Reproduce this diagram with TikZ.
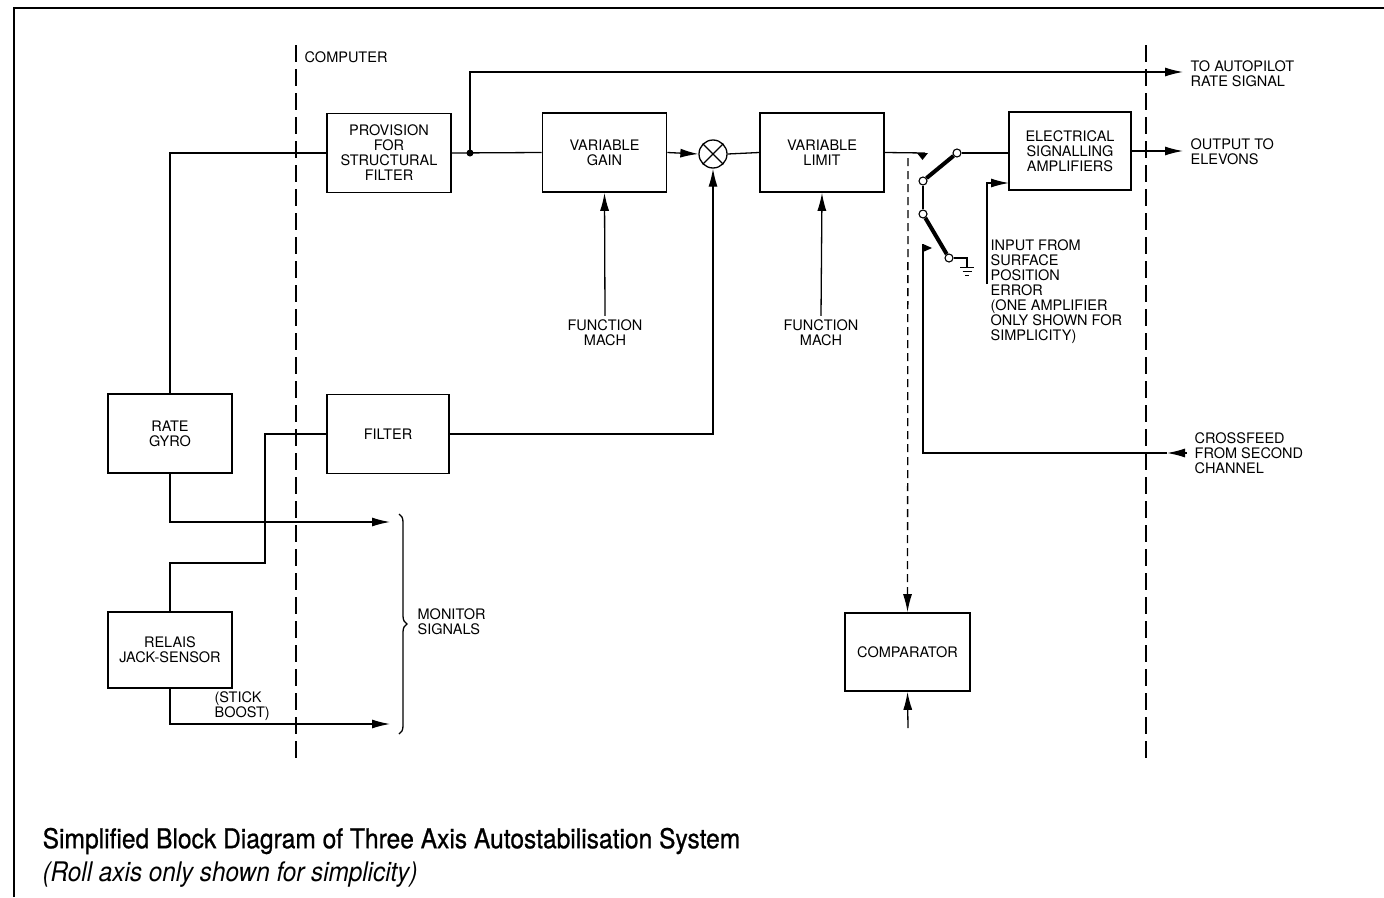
\documentclass[tikz,border=0pt]{standalone}
\usepackage{fontspec}
\setmainfont{TeX Gyre Heros}
\newfontfamily\capfont[FakeStretch=0.9]{TeX Gyre Heros}
\newfontfamily\titlefont[FakeStretch=0.9,FakeBold=0.8]{TeX Gyre Heros}
\usetikzlibrary{arrows.meta,positioning,decorations.pathreplacing}

\begin{document}
\begin{tikzpicture}[
  x=1pt,y=-1pt,
  line width=1.3pt,
  font=\fontsize{14.5}{15}\selectfont,
  box/.style={draw,line width=1.6pt,align=center,minimum width=124pt,
              minimum height=79pt,inner sep=2pt},
  lbl/.style={align=left,anchor=west,inner sep=0pt},
  arrow/.style={-{Latex[length=18pt,width=9pt]}},
  border/.style={dash pattern=on 17pt off 7pt,line width=1.1pt},
  contact/.style={draw,circle,fill=white,inner sep=0pt,minimum size=8pt,line width=1.1pt},
  blade/.style={line width=4pt}
]
\useasboundingbox (0,0) rectangle (1384,897);
\draw[line width=1.5pt] (14,897) -- (14,8) -- (1384,8);

% computer boundaries
\draw[border] (296,45) -- (296,760);
\draw[border] (1146,45) -- (1146,758);
\node[lbl] (computer) at (304,57) {COMPUTER};

% main chain
\node[box] (psf) at (389,153) {PROVISION\\FOR\\STRUCTURAL\\FILTER};
\node[box] (gain) at (604.5,152.5) {VARIABLE\\GAIN};
\node[draw,circle,minimum size=28pt,inner sep=0pt] (sum) at (713,154) {};
\draw (sum.45) -- (sum.225) (sum.135) -- (sum.315);
\node[box] (limit) at (822,152.5) {VARIABLE\\LIMIT};
\node[box,minimum width=122pt,minimum height=78pt] (esa) at (1070,151)
 {ELECTRICAL\\SIGNALLING\\AMPLIFIERS};
\node[align=center] (mach1) at (605,333) {FUNCTION\\MACH};
\node[align=center] (mach2) at (821,333) {FUNCTION\\MACH};

% sensors
\node[box] (gyro) at (170,433.5) {RATE\\GYRO};
\node[box,minimum width=122pt] (filter) at (388,434) {FILTER};
\node[box,minimum height=76pt] (relais) at (170,650) {RELAIS\\JACK-SENSOR};
\node[box,minimum width=125pt,minimum height=78pt] (comp) at (907.5,652) {COMPARATOR};

% outside labels
\node[lbl] (autopilot) at (1190,74) {TO AUTOPILOT\\RATE SIGNAL};
\node[lbl] (elevons) at (1190,152) {OUTPUT TO\\ELEVONS};
\node[lbl] (crossfeed) at (1194,453) {CROSSFEED\\FROM SECOND\\CHANNEL};
\node[lbl,anchor=north west] (surface) at (990,239)
 {INPUT FROM\\SURFACE\\POSITION\\ERROR\\(ONE AMPLIFIER\\ONLY SHOWN FOR\\SIMPLICITY)};
\node[lbl] (stick) at (214,706) {(STICK\\BOOST)};
\node[lbl] (monitor) at (417,622) {MONITOR\\SIGNALS};

\coordinate (dot) at (470,153);
\coordinate (apEnd) at (1183,72);
\coordinate (elvEnd) at (1183,151);
\coordinate (lim) at (925,153);
\coordinate (cf) at (1187,453);
\coordinate (se) at (987,284);
\coordinate (seIn) at (1009,183);
\coordinate (compIn) at (908,728);
\coordinate (mon1) at (390,522);
\coordinate (mon2) at (390,724);

\draw (gyro.north) |- (psf.west);
\draw (psf.east) -- (gain.west);
\fill (dot) circle (3.5pt);
\draw[arrow] (dot) |- (apEnd);
\draw[arrow] (gain.east) -- (sum.west);
\draw (sum.east) -- (limit.west);
\draw[arrow] (filter.east) -| (sum.south);
\draw[arrow] (mach1.north) -- (gain.south);
\draw[arrow] (mach2.north) -- (limit.south);
\draw[arrow] (esa.east) -- (elvEnd);

% switch
\draw (limit.east) -- (lim);
\fill (917,153) -- (928,153) -- (922.5,160) -- cycle;
\node[contact] (c1) at (957,153) {};
\node[contact] (c2) at (923,181) {};
\node[contact] (c3) at (923,214) {};
\node[contact] (c4) at (949,258) {};
\draw[blade] (c2) -- (c1);
\draw (c2) -- (c3);
\draw[blade] (c3) -- (c4);
\draw (c1) -- (c1 -| esa.west);
\draw (c4) -- (967,258) -- (967,267);
\draw[line width=1pt] (960,267) -- (974,267) (962.5,271) -- (971.5,271) (965,275) -- (969,275);
\fill (923,244) -- (932,248) -- (923,252) -- cycle;
\draw[arrow] (cf) -- (1167,453);
\draw (1167,453) -- (923,453) -- (923,244);
\draw[arrow] (se) |- (seIn);
\draw[arrow,dash pattern=on 8pt off 5pt] (908,158) -- (comp.north);
\draw[arrow] (compIn) -- (comp.south);

% monitor signals
\draw[arrow] (gyro.south) |- (mon1);
\draw (relais.north) |- (265,563) |- (filter.west);
\draw[arrow] (relais.south) |- (mon2);
\draw[decorate,decoration={brace,amplitude=8pt}] (399,514) -- (399,734);

\node[anchor=west,inner sep=0pt,font=\titlefont\fontsize{27.3}{29}\selectfont] (title) at (42,841)
 {Simplified Block Diagram of Three Axis Autostabilisation System};
\node[anchor=west,inner sep=0pt,font=\capfont\itshape\fontsize{27}{29}\selectfont] (subtitle) at (42,875)
 {(Roll axis only shown for simplicity)};
\end{tikzpicture}
\end{document}
